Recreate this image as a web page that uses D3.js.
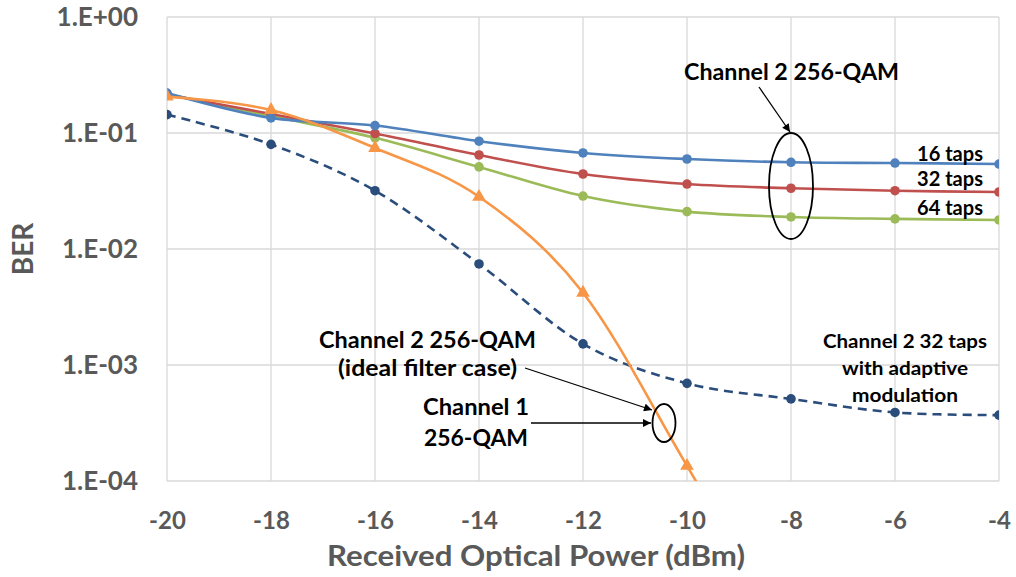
<!DOCTYPE html>
<html>
<head>
<meta charset="utf-8">
<script src="https://cdn.jsdelivr.net/npm/d3@7/dist/d3.min.js"></script>
<style>
  body { margin: 0; background: #fff; }
  svg { display: block; }
  text { font-family: Lato, "Open Sans", sans-serif; font-weight: bold; }
</style>
</head>
<body>
<svg id="chart" width="1016" height="577"></svg>
<script>
// ---- data ----
const xValues = [-20, -18, -16, -14, -12, -10, -8, -6, -4];
const taps16 = [0.221, 0.135, 0.116, 0.085, 0.0673, 0.0597, 0.0559, 0.0551, 0.054];
const taps32 = [0.215, 0.146, 0.099, 0.0646, 0.0443, 0.0363, 0.0334, 0.0318, 0.031];
const taps64 = [0.217, 0.14, 0.091, 0.051, 0.0286, 0.021, 0.0189, 0.0182, 0.0178];
const channel1X = [-20, -18, -16, -14, -12, -10, -8];
const channel1 = [0.206, 0.158, 0.0743, 0.0282, 0.0042, 0.000135, 0.000004];
const adaptive = [0.144, 0.0798, 0.0318, 0.00743, 0.00152, 0.000695, 0.00051, 0.00039, 0.00037];
const xTicks = [-20, -18, -16, -14, -12, -10, -8, -6, -4];
const yTicks = [1, 0.1, 0.01, 0.001, 0.0001];
const yTickLabels = ["1.E+00", "1.E-01", "1.E-02", "1.E-03", "1.E-04"];

// ---- layout ----
const W = 1016, H = 577;
const m = { left: 167, top: 17, right: 17, bottom: 96 };
const svg = d3.select("#chart");
const x = d3.scaleLinear().domain([-20, -4]).range([m.left, W - m.right]);
const y = d3.scaleLog().domain([1e-4, 1]).range([H - m.bottom, m.top]);

const defs = svg.append("defs");
defs.append("clipPath").attr("id", "plotclip").append("rect")
  .attr("x", m.left).attr("y", m.top)
  .attr("width", W - m.left - m.right).attr("height", H - m.top - m.bottom);
defs.append("marker").attr("id", "arrow")
  .attr("viewBox", "0 0 10 10").attr("refX", 10).attr("refY", 5)
  .attr("markerWidth", 10).attr("markerHeight", 8).attr("markerUnits", "userSpaceOnUse")
  .attr("orient", "auto")
  .append("path").attr("d", "M0,0 L10,5 L0,10 Z").attr("fill", "#000");

// gridlines
const grid = svg.append("g");
grid.selectAll("line.h").data(yTicks).join("line")
  .attr("x1", m.left).attr("x2", W - m.right)
  .attr("y1", d => y(d)).attr("y2", d => y(d))
  .attr("stroke", "#d9d9d9").attr("stroke-width", 1.3);
grid.selectAll("line.v").data(xTicks).join("line")
  .attr("y1", m.top).attr("y2", H - m.bottom)
  .attr("x1", d => x(d)).attr("x2", d => x(d))
  .attr("stroke", "#d9d9d9").attr("stroke-width", 1.3);

// axes (labels only)
const yAxis = d3.axisLeft(y).tickValues(yTicks)
  .tickFormat((d, i) => yTickLabels[i]).tickSize(0).tickPadding(29);
const gy = svg.append("g").attr("transform", `translate(${m.left},0)`).call(yAxis);
gy.select(".domain").remove();
gy.selectAll("text").attr("fill", "#595959").style("font-size", "26px")
  .style("font-family", "Lato, sans-serif").style("font-weight", "bold");

const xAxis = d3.axisBottom(x).tickValues(xTicks).tickFormat(d3.format("d")).tickSize(0).tickPadding(31);
const gx = svg.append("g").attr("transform", `translate(0,${H - m.bottom})`).call(xAxis);
gx.select(".domain").remove();
gx.selectAll("text").attr("fill", "#595959").style("font-size", "24px")
  .style("font-family", "Lato, sans-serif").style("font-weight", "bold");
gx.selectAll("text").text(d => d < 0 ? "-" + Math.abs(d) : d);

// axis titles
svg.append("text").attr("x", 536).attr("y", 566).attr("text-anchor", "middle")
  .attr("fill", "#595959").style("font-size", "29px")
  .attr("textLength", 418).attr("lengthAdjust", "spacingAndGlyphs")
  .text("Received Optical Power (dBm)");
svg.append("text").attr("transform", "translate(33,249) rotate(-90)").attr("text-anchor", "middle")
  .attr("fill", "#595959").style("font-size", "28px").text("BER");

// series
const plot = svg.append("g").attr("clip-path", "url(#plotclip)");
const line = d3.line().x(d => x(d[0])).y(d => y(d[1])).curve(d3.curveCatmullRom.alpha(0));

function drawSeries(xs, ys, color, opts) {
  const pts = xs.map((v, i) => [v, ys[i]]);
  plot.append("path").datum(pts).attr("d", line)
    .attr("fill", "none").attr("stroke", color).attr("stroke-width", 2.6)
    .attr("stroke-dasharray", opts.dash || null).attr("stroke-linecap", "butt");
  if (opts.triangle) {
    const sym = d3.symbol().type(d3.symbolTriangle).size(80);
    plot.selectAll(null).data(pts).join("path")
      .attr("d", sym).attr("transform", d => `translate(${x(d[0])},${y(d[1])})`)
      .attr("fill", color);
  } else {
    plot.selectAll(null).data(pts).join("circle")
      .attr("cx", d => x(d[0])).attr("cy", d => y(d[1])).attr("r", 4.8)
      .attr("fill", color);
  }
}
drawSeries(xValues, adaptive, "#2a4d7c", { dash: "9,6" });
drawSeries(xValues, taps64, "#9bbb59", {});
drawSeries(xValues, taps32, "#c0504d", {});
drawSeries(xValues, taps16, "#4f81bd", {});
drawSeries(channel1X, channel1, "#f79646", { triangle: true });

// annotations
const ann = svg.append("g");
function txt(s, xx, yy, size, len, anchor) {
  const t = ann.append("text").attr("x", xx).attr("y", yy).attr("text-anchor", anchor || "middle")
    .attr("fill", "#000").style("font-size", size + "px").text(s);
  if (len) t.attr("textLength", len).attr("lengthAdjust", "spacingAndGlyphs");
}
txt("Channel 2 256-QAM", 791.5, 80, 23, 215);
ann.append("line").attr("x1", 759).attr("y1", 87).attr("x2", 790).attr("y2", 132)
  .attr("stroke", "#000").attr("stroke-width", 1.3).attr("marker-end", "url(#arrow)");
ann.append("ellipse").attr("cx", x(-8)).attr("cy", 186).attr("rx", 22).attr("ry", 53)
  .attr("fill", "none").attr("stroke", "#000").attr("stroke-width", 1.8);

txt("16 taps", 917, 161, 20, 66, "start");
txt("32 taps", 917, 186, 20, 66, "start");
txt("64 taps", 917, 215, 20, 66, "start");

txt("Channel 2 256-QAM", 427.5, 348, 23, 217);
txt("(ideal filter case)", 427.5, 376, 23, 179);
txt("Channel 1", 476, 415, 23, 106);
txt("256-QAM", 476, 446, 23, 104);
ann.append("line").attr("x1", 525).attr("y1", 368).attr("x2", 652).attr("y2", 410)
  .attr("stroke", "#000").attr("stroke-width", 1.3).attr("marker-end", "url(#arrow)");
ann.append("line").attr("x1", 531).attr("y1", 423).attr("x2", 651).attr("y2", 423)
  .attr("stroke", "#000").attr("stroke-width", 1.3).attr("marker-end", "url(#arrow)");
ann.append("ellipse").attr("cx", 664).attr("cy", 423).attr("rx", 11.5).attr("ry", 19)
  .attr("fill", "none").attr("stroke", "#000").attr("stroke-width", 1.8);

txt("Channel 2 32 taps", 905, 348, 19, 164);
txt("with adaptive", 905, 375, 19, 126);
txt("modulation", 905, 402, 19, 106);
</script>
</body>
</html>
